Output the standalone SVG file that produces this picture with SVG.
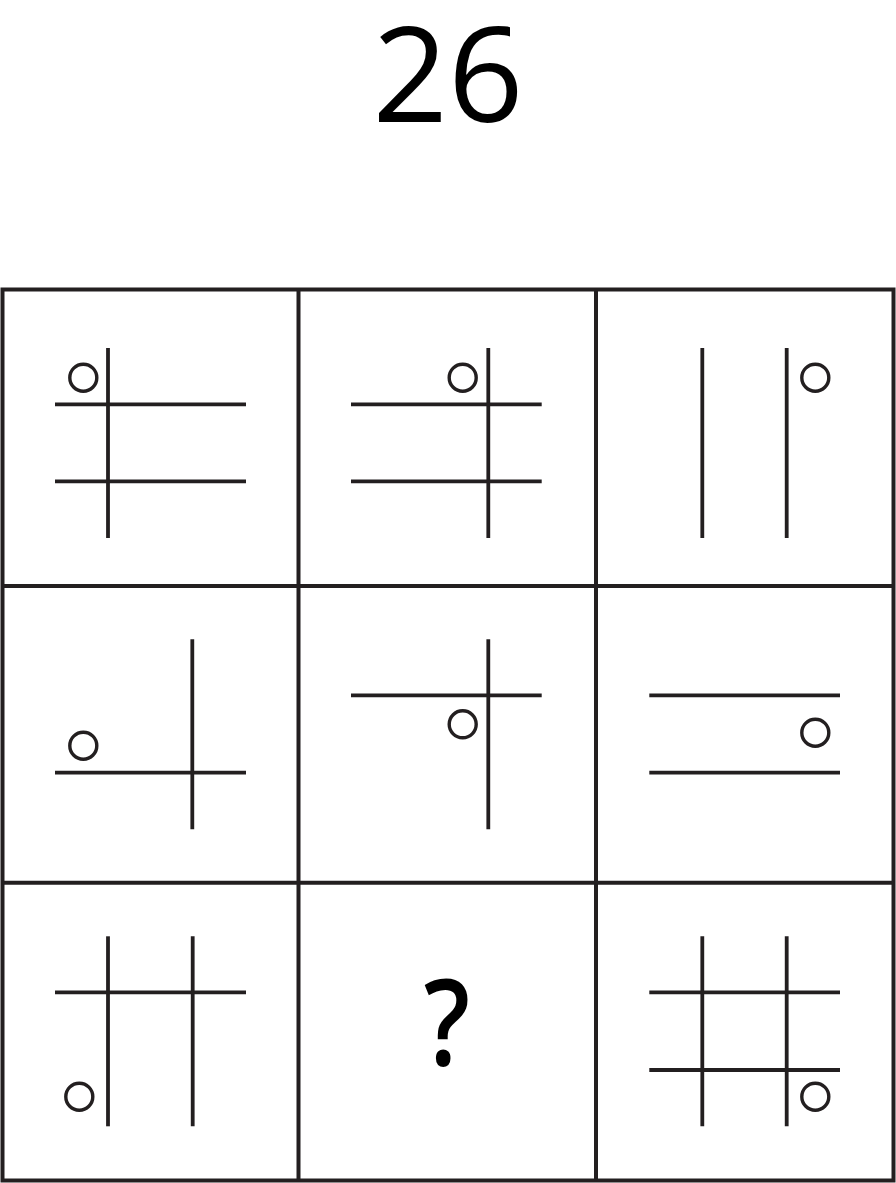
<svg xmlns="http://www.w3.org/2000/svg" width="896" height="1183" viewBox="0 0 896 1183">
<style>
.g{stroke:#231f20;stroke-width:4;fill:none}
.l{stroke:#231f20;stroke-width:3.8;fill:none}
.c{stroke:#231f20;stroke-width:3.4;fill:none}
.t{font-family:"Open Sans","Noto Sans",sans-serif;fill:#000;text-anchor:middle}
</style>
<rect width="896" height="1183" fill="#fff"/>
<text id="title" class="t" x="448" y="122" font-size="132">26</text>
<g id="grid" class="g">
<rect x="2.5" y="289.5" width="891" height="891"/>
<line x1="298.5" y1="289.5" x2="298.5" y2="1180.5"/>
<line x1="596" y1="289.5" x2="596" y2="1180.5"/>
<line x1="2.5" y1="586" x2="893.5" y2="586"/>
<line x1="2.5" y1="882.7" x2="893.5" y2="882.7"/>
</g>
<g id="cell1">
<line class="l" x1="108" y1="348" x2="108" y2="538"/>
<line class="l" x1="55" y1="404.3" x2="246" y2="404.3"/>
<line class="l" x1="55" y1="481.3" x2="246" y2="481.3"/>
<circle class="c" cx="83.3" cy="377.7" r="13.5"/>
</g>
<g id="cell2">
<line class="l" x1="488.3" y1="348" x2="488.3" y2="538"/>
<line class="l" x1="351" y1="404.3" x2="541.7" y2="404.3"/>
<line class="l" x1="351" y1="481.3" x2="541.7" y2="481.3"/>
<circle class="c" cx="462.7" cy="377.7" r="13.5"/>
</g>
<g id="cell3">
<line class="l" x1="702.3" y1="348" x2="702.3" y2="538"/>
<line class="l" x1="786.7" y1="348" x2="786.7" y2="538"/>
<circle class="c" cx="815.3" cy="377.7" r="13.5"/>
</g>
<g id="cell4">
<line class="l" x1="192.3" y1="639.3" x2="192.3" y2="829.3"/>
<line class="l" x1="55" y1="772.7" x2="246" y2="772.7"/>
<circle class="c" cx="83.3" cy="745.7" r="13.5"/>
</g>
<g id="cell5">
<line class="l" x1="488.3" y1="639.3" x2="488.3" y2="829.3"/>
<line class="l" x1="351" y1="695.3" x2="541.7" y2="695.3"/>
<circle class="c" cx="462.7" cy="724.3" r="13.5"/>
</g>
<g id="cell6">
<line class="l" x1="649.3" y1="695.3" x2="840" y2="695.3"/>
<line class="l" x1="649.3" y1="772.7" x2="840" y2="772.7"/>
<circle class="c" cx="815.3" cy="732.7" r="13.5"/>
</g>
<g id="cell7">
<line class="l" x1="108" y1="936.3" x2="108" y2="1126.3"/>
<line class="l" x1="192.7" y1="936.3" x2="192.7" y2="1126.3"/>
<line class="l" x1="55" y1="992.3" x2="246" y2="992.3"/>
<circle class="c" cx="79.3" cy="1096.7" r="13.5"/>
</g>
<g id="cell8">
<text class="t" transform="translate(447,1065) scale(0.85,1)" x="0" y="0" font-size="120" font-weight="600">?</text>
</g>
<g id="cell9">
<line class="l" x1="702.3" y1="936.3" x2="702.3" y2="1126.3"/>
<line class="l" x1="786.7" y1="936.3" x2="786.7" y2="1126.3"/>
<line class="l" x1="649.3" y1="992.3" x2="840" y2="992.3"/>
<line class="l" x1="649.3" y1="1070" x2="840" y2="1070"/>
<circle class="c" cx="815.3" cy="1096.7" r="13.5"/>
</g>
</svg>
